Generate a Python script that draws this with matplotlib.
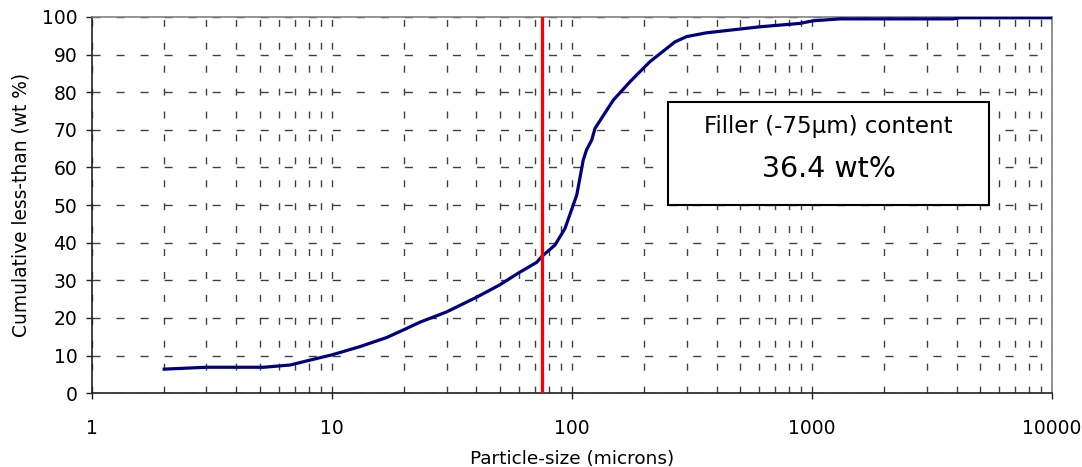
import matplotlib
matplotlib.use("Agg")
import matplotlib.pyplot as plt
from matplotlib.ticker import LogLocator, FixedLocator, NullFormatter

plt.rcParams['font.family'] = ['DejaVu Sans']
plt.rcParams['lines.scale_dashes'] = False

# particle size (microns) vs cumulative less-than (wt %)
size_um = [2, 3, 5.2, 6.7, 8.1, 10, 13.1, 16.9, 19.8, 23.3, 30, 40, 50, 60, 71.3, 75,
           85, 93.5, 104.7, 111.4, 115, 120.8, 124.7, 148.6, 174.5, 211, 268.7, 300.6,
           364, 607, 891, 1012, 1308, 3879, 4138, 10000]
cum_pct = [6.4, 6.9, 6.9, 7.5, 8.8, 10.2, 12.4, 14.8, 16.8, 18.9, 21.6, 25.5, 28.8, 32.0, 34.8, 36.4,
           39.4, 43.8, 52.7, 62.0, 64.7, 67.3, 70.4, 77.9, 82.8, 88.1, 93.4, 94.8,
           95.8, 97.4, 98.3, 99.0, 99.5, 99.5, 99.8, 99.8]
cut_size = 75
filler_pct = 36.4

fig = plt.figure(figsize=(10.82, 4.67), dpi=100)
ax = fig.add_axes([0.085, 0.158, 0.8873, 0.8056])

ax.plot(size_um, cum_pct, color='#000080', lw=2.3, zorder=3)
ax.plot([cut_size, cut_size], [0, 100], color='red', lw=2.3, zorder=4)

ax.set_xscale('log')
ax.set_xlim(1, 10000)
ax.set_ylim(0, 100)
ax.xaxis.set_major_locator(FixedLocator([1, 10, 100, 1000, 10000]))
ax.xaxis.set_minor_locator(LogLocator(base=10, subs=range(2, 10)))
ax.xaxis.set_minor_formatter(NullFormatter())
ax.set_xticklabels(['1', '10', '100', '1000', '10000'])
ax.set_yticks(range(0, 101, 10))

grid_kw = dict(color='#404040', lw=1.0)
ax.grid(True, axis='x', which='both', linestyle=(0, (5, 11.5)), **grid_kw)
ax.grid(True, axis='y', which='major', linestyle=(0, (5.8, 11.5)), **grid_kw)
ax.set_axisbelow(True)

ax.tick_params(axis='both', which='major', direction='out', length=4.5, width=1,
               labelsize=13.5, color='#202020')
ax.tick_params(axis='x', which='minor', length=0)
ax.tick_params(axis='x', pad=14)
ax.tick_params(axis='y', pad=6)

for side in ['left', 'bottom']:
    ax.spines[side].set_color('#202020')
    ax.spines[side].set_linewidth(1.2)
for side in ['top', 'right']:
    ax.spines[side].set_color('#808080')
    ax.spines[side].set_linewidth(1.2)

ax.set_xlabel('Particle-size (microns)', fontsize=13.3, labelpad=9)
ax.set_ylabel('Cumulative less-than (wt %)', fontsize=13.4, labelpad=8)

# annotation box
box = plt.Rectangle((0.6, 0.5), 0.3347, 0.2737, transform=ax.transAxes,
                    facecolor='white', edgecolor='black', lw=1.5, zorder=5)
ax.add_patch(box)
ax.text(0.7673, 0.7083, 'Filler (-75\u03bcm) content', transform=ax.transAxes,
        ha='center', va='center', fontsize=16.5, zorder=6)
ax.text(0.7673, 0.5957, f'{filler_pct} wt%', transform=ax.transAxes,
        ha='center', va='center', fontsize=20.5, zorder=6)

fig.savefig('out.png', dpi=100)
